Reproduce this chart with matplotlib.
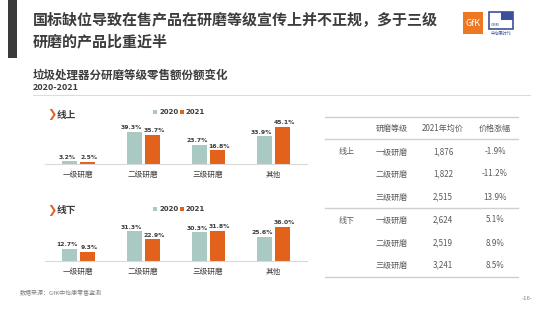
import matplotlib
matplotlib.use("Agg")
import matplotlib.pyplot as plt
from matplotlib.patches import Rectangle

plt.rcParams['font.family'] = ['Noto Sans CJK SC', 'DejaVu Sans']

# data
categories = ['一级研磨', '二级研磨', '三级研磨', '其他']
online_2020 = [3.2, 39.3, 23.7, 33.9]
online_2021 = [2.5, 35.7, 16.8, 45.1]
offline_2020 = [12.7, 31.3, 30.3, 25.6]
offline_2021 = [9.3, 22.9, 31.8, 36.0]
years = ['2020', '2021']

table_header = ['研磨等级', '2021年均价', '价格涨幅']
table_channel = ['线上', '', '', '线下', '', '']
table_grade = ['一级研磨', '二级研磨', '三级研磨', '一级研磨', '二级研磨', '三级研磨']
table_price = ['1,876', '1,822', '2,515', '2,624', '2,519', '3,241']
table_change = ['-1.9%', '-11.2%', '13.9%', '5.1%', '8.9%', '8.5%']

W, H = 550, 309
c_teal = '#a9c9c2'
c_orange = '#e2611b'
c_text = '#3c3c3c'
c_grey = '#5a5a5a'

fig = plt.figure(figsize=(W / 100, H / 100), dpi=100)
fig.patch.set_facecolor('white')


def px(x, y):
    return x / W, 1 - y / H


def ftext(x, y, s, **kw):
    fx, fy = px(x, y)
    fig.text(fx, fy, s, **kw)


def frect(x, y, w, h, **kw):
    fx, fy = px(x, y + h)
    fig.patches.append(Rectangle((fx, fy), w / W, h / H, transform=fig.transFigure, **kw))


def fline(x0, x1, y, color='#d0d0d0', lw=0.8):
    fig.add_artist(plt.Line2D([x0 / W, x1 / W], [1 - y / H, 1 - y / H],
                              transform=fig.transFigure, color=color, lw=lw))


# header
frect(8, 0, 9, 58, color='#3a3a3a', lw=0)
ftext(33, 20, '国标缺位导致在售产品在研磨等级宣传上并不正规，多于三级', fontsize=10.8,
      fontweight='bold', color=c_text, va='center')
ftext(33, 41, '研磨的产品比重近半', fontsize=10.8, fontweight='bold', color=c_text, va='center')

# logos
frect(463, 12, 20, 22, color='#ee7722', lw=0)
ftext(473, 23, 'GfK', fontsize=6.5, color='white', ha='center', va='center')
frect(489, 12, 24, 17, facecolor='white', edgecolor='#3d4f9a', lw=1.2)
frect(501, 12, 12, 8, color='#3d4f9a', lw=0)
ftext(491, 25, 'CMM', fontsize=2.8, color='#3d4f9a', va='center')
ftext(501, 34, '中怡康时代', fontsize=3, color='#3d4f9a', ha='center', va='center')

ftext(33, 75, '垃圾处理器分研磨等级零售额份额变化', fontsize=8.3, fontweight='bold',
      color=c_text, va='center')
ftext(33, 88, '2020-2021', fontsize=6.5, fontweight='bold', color=c_text, va='center')
fline(33, 530, 95, color='#dcdcdc', lw=0.8)


def bar_panel(base_y, ppp, v20, v21, title, title_y, legend_y):
    l, b = px(45, base_y)
    ax = fig.add_axes([l, b, (307 - 45) / W, 60 / H])
    ax.set_xlim(-33 / 65, 3 + 34 / 65)
    ax.set_ylim(0, 60 / ppp)
    x = list(range(len(categories)))
    off = 9 / 65
    w = 15 / 65
    b1 = ax.bar([i - off for i in x], v20, w, color=c_teal)
    b2 = ax.bar([i + off for i in x], v21, w, color=c_orange)
    for bars, vals, dx in ((b1, v20, -1.6), (b2, v21, 1.6)):
        for r, v in zip(bars, vals):
            ax.annotate('%.1f%%' % v, (r.get_x() + r.get_width() / 2, v),
                        xytext=(dx, 1.2), textcoords='offset points',
                        ha='center', va='bottom', fontsize=4.4, fontweight='bold',
                        color=c_text, family='DejaVu Sans')
    ax.set_xticks(x)
    ax.set_xticklabels(categories, fontsize=5.5, color=c_text)
    ax.tick_params(length=0, pad=5)
    ax.set_yticks([])
    for s in ['top', 'right', 'left']:
        ax.spines[s].set_visible(False)
    ax.spines['bottom'].set_color('#d9d9d9')
    ax.spines['bottom'].set_linewidth(0.8)
    ax.patch.set_alpha(0)

    ftext(47, title_y, '❯', fontsize=8, color=c_orange, va='center',
          family='DejaVu Sans', fontweight='bold')
    ftext(57, title_y, title, fontsize=7, fontweight='bold', color=c_text, va='center')
    frect(153, legend_y - 2, 4, 4, color=c_teal, lw=0)
    ftext(159, legend_y, years[0], fontsize=5.0, fontweight='bold', color=c_text,
          va='center', family='DejaVu Sans')
    frect(180, legend_y - 2, 4, 4, color=c_orange, lw=0)
    ftext(186, legend_y, years[1], fontsize=5.0, fontweight='bold', color=c_text,
          va='center', family='DejaVu Sans')


bar_panel(164, 0.82, online_2020, online_2021, '线上', 115, 112)
bar_panel(261, 0.95, offline_2020, offline_2021, '线下', 210, 209)

# table
fline(325, 518, 117, lw=1.0)
fline(325, 518, 139, lw=1.0)
fline(325, 518, 208, lw=1.0)
fline(325, 518, 277, lw=1.0)
col_x = [392, 443, 495]
for cx, h in zip(col_x, table_header):
    ftext(cx, 128, h, fontsize=5.8, color=c_grey, ha='center', va='center')
row_y = [152, 174, 197, 220, 243, 265]
for i, ry in enumerate(row_y):
    ftext(347, ry, table_channel[i], fontsize=5.8, color=c_grey, ha='center', va='center')
    ftext(col_x[0], ry, table_grade[i], fontsize=5.8, color=c_grey, ha='center', va='center')
    ftext(col_x[1], ry, table_price[i], fontsize=5.8, color=c_grey, ha='center', va='center')
    ftext(col_x[2], ry, table_change[i], fontsize=5.8, color=c_grey, ha='center', va='center')

# footer
ftext(20, 293, '数据来源：GfK中怡康零售监测', fontsize=4.3, color='#7f7f7f', va='center')
ftext(527, 298, '-16-', fontsize=4.3, color='#7f7f7f', ha='center', va='center')

fig.savefig('out.png', dpi=100)
